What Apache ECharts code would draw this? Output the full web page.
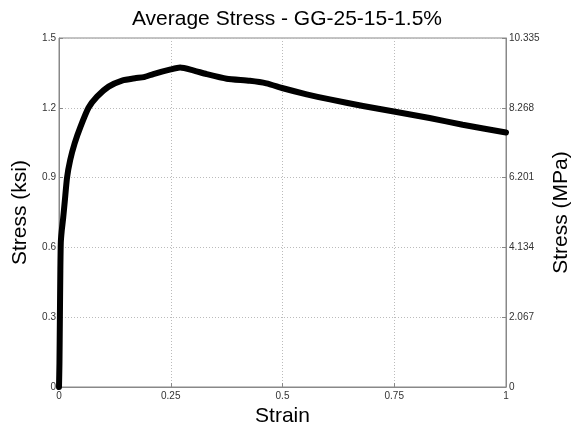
<!DOCTYPE html>
<html>
<head>
<meta charset="utf-8">
<script src="https://cdn.jsdelivr.net/npm/echarts@6/dist/echarts.min.js"></script>
<style>html,body{margin:0;padding:0;background:#fff}#c{width:575px;height:433px}</style>
</head>
<body>
<div id="c"></div>
<script>
const chartTitle = "Average Stress - GG-25-15-1.5%";
const strain = [0,0.001,0.002,0.003,0.004,0.006,0.009,0.013,0.018,0.025,0.035,0.048,0.066,0.085,0.111,0.141,0.17,0.19,0.211,0.25,0.271,0.3,0.33,0.375,0.427,0.464,0.501,0.554,0.606,0.68,0.749,0.829,0.903,1.0];
const stressKsi = [0,0.1,0.3,0.5,0.62,0.67,0.72,0.8,0.9,0.975,1.047,1.118,1.2,1.248,1.291,1.317,1.327,1.332,1.345,1.365,1.373,1.361,1.345,1.325,1.316,1.305,1.284,1.258,1.236,1.208,1.184,1.156,1.127,1.094];
const xTicks = [0,0.25,0.5,0.75,1];
const ksiTicks = [0,0.3,0.6,0.9,1.2,1.5];
const mpaTicks = ["0","2.067","4.134","6.201","8.268","10.335"];

const FONT = "Liberation Sans, Arial, sans-serif";
const chart = echarts.init(document.getElementById('c'), null, {renderer:'canvas'});
const data = strain.map((s,i)=>[s, stressKsi[i]]);
const lblStyle = {fontFamily:FONT, fontSize:10, color:'#333'};
chart.setOption({
  animation:false,
  title:{text:chartTitle,left:282,top:4,textAlign:'center',textStyle:{fontFamily:FONT,fontSize:21,fontWeight:'normal',color:'#000'}},
  grid:{left:59,right:69,top:38,bottom:46,show:true,borderColor:'#888',borderWidth:1,containLabel:false,outerBoundsMode:'none'},
  xAxis:{type:'value',min:0,max:1,interval:0.25,
    name:'Strain',nameLocation:'middle',nameGap:16,nameTextStyle:{fontFamily:FONT,fontSize:21,color:'#000'},
    axisLine:{lineStyle:{color:'#888'}},axisTick:{inside:true,length:4,lineStyle:{color:'#888'}},
    axisLabel:Object.assign({margin:4,formatter:v=>xTicks.indexOf(v)>=0?String(v):''},lblStyle),
    splitLine:{show:true,lineStyle:{color:'#bbb',type:[1,2],width:1}}},
  yAxis:[
    {type:'value',min:0,max:1.5,interval:0.3,position:'left',
     name:'Stress (ksi)',nameLocation:'middle',nameGap:21,nameTextStyle:{fontFamily:FONT,fontSize:21,color:'#000'},
     axisLine:{show:true,lineStyle:{color:'#888'}},axisTick:{show:true,inside:true,length:4,lineStyle:{color:'#888'}},
     axisLabel:Object.assign({margin:3,formatter:v=>{const i=ksiTicks.findIndex(t=>Math.abs(t-v)<1e-9);return i>=0?String(ksiTicks[i]):'';}},lblStyle),
     splitLine:{show:true,lineStyle:{color:'#bbb',type:[1,2],width:1}}},
    {type:'value',min:0,max:10.335,interval:2.067,position:'right',
     name:'Stress (MPa)',nameLocation:'middle',nameGap:32,nameTextStyle:{fontFamily:FONT,fontSize:21,color:'#000'},
     axisLine:{show:true,lineStyle:{color:'#888'}},axisTick:{show:true,inside:true,length:4,lineStyle:{color:'#888'}},
     axisLabel:Object.assign({margin:3,formatter:v=>{const i=Math.round(v/2.067);return mpaTicks[i]||'';}},lblStyle),
     splitLine:{show:false}}
  ],
  series:[{type:'line',yAxisIndex:0,data:data,showSymbol:false,smooth:0.2,
    lineStyle:{color:'#000',width:6,cap:'round',join:'round'}}]
});
</script>
</body>
</html>
